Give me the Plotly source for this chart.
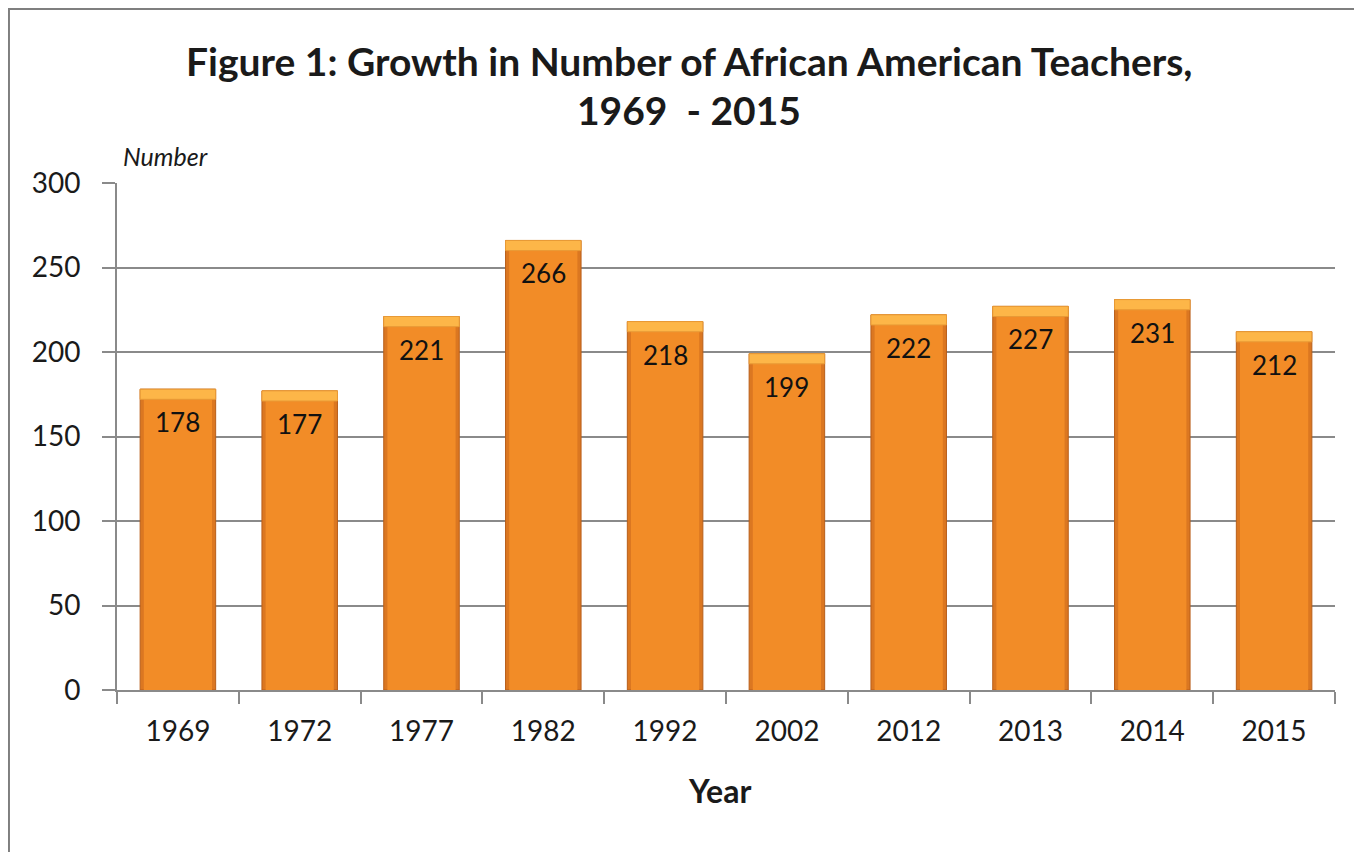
import plotly.graph_objects as go

# Chart data
years = ["1969", "1972", "1977", "1982", "1992", "2002", "2012", "2013", "2014", "2015"]
teachers = [178, 177, 221, 266, 218, 199, 222, 227, 231, 212]
y_ticks = [0, 50, 100, 150, 200, 250, 300]

FONT = "Lato"
GRID = "#8a8a8a"

bevel = [6] * len(teachers)
bevel_base = [v - 6 for v in teachers]

fig = go.Figure()

# outer bar (darker edges)
fig.add_trace(go.Bar(
    x=years, y=teachers, width=0.62,
    marker=dict(color="#DB7721", line=dict(color="#B85E1A", width=1)),
    hoverinfo="x+y", showlegend=False,
))
# inner, lighter body of the bar
fig.add_trace(go.Bar(
    x=years, y=teachers, width=0.56,
    marker=dict(color="#F28C27", line=dict(width=0)),
    hoverinfo="skip", showlegend=False,
))
# lighter bevel band at the top of each bar
fig.add_trace(go.Bar(
    x=years, y=bevel, base=bevel_base, width=0.62,
    marker=dict(color="#FDB648", line=dict(color="#E89A36", width=1)),
    hoverinfo="skip", showlegend=False,
))

# value labels inside the bars, just below the top
# (category annotations take the serial index, numeric-looking names get misread)
for i, v in enumerate(teachers):
    fig.add_annotation(x=i, y=v, text=str(v), showarrow=False, yshift=-33,
                       yanchor="middle",
                       font=dict(family=FONT, size=26, color="#111111"))

# white chart panel with a grey frame
fig.add_shape(type="rect", xref="paper", yref="paper",
              x0=-0.0887, x1=1.2, y0=-0.6, y1=1.343,
              fillcolor="white", line=dict(color="#7f7f7f", width=2), layer="below")

# title (two lines)
fig.add_annotation(xref="paper", yref="paper", x=0.47, y=1 + 122 / 507,
                   yanchor="middle",
                   text="<b>Figure 1: Growth in Number of African American Teachers,</b>",
                   showarrow=False, font=dict(family=FONT, size=39, color="#1a1a1a"))
fig.add_annotation(xref="paper", yref="paper", x=0.47, y=1 + 73 / 507,
                   yanchor="middle",
                   text="<b>1969  - 2015</b>",
                   showarrow=False, font=dict(family=FONT, size=39, color="#1a1a1a"))

# "Number" label above the y axis
fig.add_annotation(xref="paper", yref="paper", x=0.003, y=1 + 27 / 507,
                   xanchor="left", yanchor="middle", text="<i>Number</i>", showarrow=False,
                   font=dict(family=FONT, size=25, color="#1a1a1a"))

# x axis title
fig.add_annotation(xref="paper", yref="paper", x=0.495, y=-100 / 507,
                   yanchor="middle", text="<b>Year</b>", showarrow=False,
                   font=dict(family=FONT, size=32, color="#1a1a1a"))

# page body adds an 8px margin, so the figure is sized to fit inside it
fig.update_layout(
    width=1354, height=844,
    margin=dict(l=109, r=27, t=175, b=162, pad=0),
    barmode="overlay",
    paper_bgcolor="#EEEEEE",
    plot_bgcolor="white",
    font=dict(family=FONT, size=28, color="#1a1a1a"),
    xaxis=dict(
        type="category",
        showline=True, linecolor=GRID, linewidth=2,
        ticks="outside", tickson="boundaries", ticklen=12, tickwidth=2, tickcolor=GRID,
        ticklabelstandoff=15,
        showgrid=False,
    ),
    yaxis=dict(
        range=[0, 300], tickvals=y_ticks,
        showline=True, linecolor=GRID, linewidth=2,
        ticks="outside", ticklen=13, tickwidth=2, tickcolor=GRID,
        ticklabelstandoff=16,
        showgrid=True, gridcolor=GRID, gridwidth=1.5,
        zeroline=False,
    ),
)

fig.write_html("out.html")
